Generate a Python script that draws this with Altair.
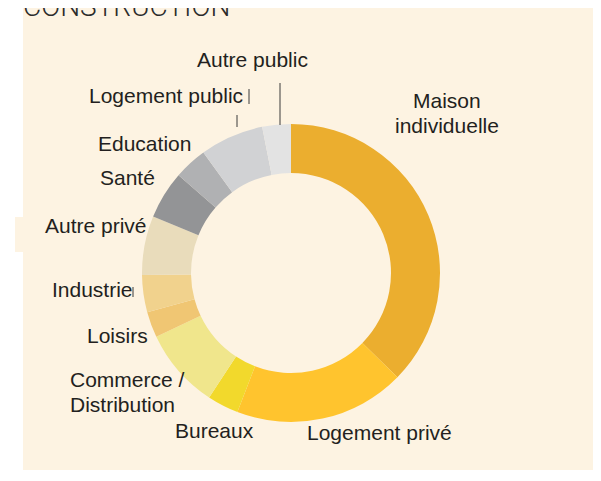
import altair as alt
import pandas as pd

# ---- data ----
categories = ["Maison individuelle", "Logement privé", "Bureaux", "Commerce / Distribution",
              "Loisirs", "Industrie", "Autre privé", "Santé", "Education",
              "Logement public", "Autre public"]
shares = [37.3, 18.5, 3.4, 8.7, 2.8, 4.0, 6.4, 5.2, 3.6, 6.9, 3.1]
colors = ["#EBAE2F", "#FFC42E", "#F2D92C", "#F0E68C", "#F0C673", "#F1D28D",
          "#E9DCBB", "#939496", "#B0B1B3", "#D1D2D4", "#E3E3E3"]

title_text = "CONSTRUCTION"

# label text lines (annotation layout kept separately)
label_text = ["Autre public", "Logement public", "Education", "Santé", "Autre privé",
              "Industrie", "Loisirs", "Commerce /", "Distribution", "Bureaux",
              "Logement privé", "Maison", "individuelle"]
label_x = [189, 81, 90, 92, 37, 44, 79, 62, 62, 167, 299, 405, 387]
label_y = [59, 95, 143, 177, 225, 289, 335, 379, 404, 430, 432, 100, 125]

# leader lines
lead_x = [272, 241, 229, 125]
lead_y = [75, 81, 107, 279]
lead_y2 = [117, 96, 119, 289]

W, H = 585, 462
CREAM = "#FDF3E2"
CX, CY = 283, 265

df = pd.DataFrame({"cat": categories, "share": shares, "idx": list(range(len(categories)))})
labels = pd.DataFrame({"t": label_text, "x": label_x, "y": label_y})
leads = pd.DataFrame({"x": lead_x, "y": lead_y, "y2": lead_y2})
one = pd.DataFrame({"a": [0]})

bg = alt.Chart(one).mark_rect(color=CREAM).encode(
    x=alt.value(15), x2=alt.value(W + 8), y=alt.value(-1), y2=alt.value(H + 11)
)
patch = alt.Chart(one).mark_rect(color=CREAM).encode(
    x=alt.value(7), x2=alt.value(15), y=alt.value(209), y2=alt.value(244)
)

title = alt.Chart(one).mark_text(
    text=title_text, align="left", baseline="alphabetic", font="Roboto",
    fontWeight=300, fontSize=28, color="#2b2b2b"
).encode(x=alt.value(15), y=alt.value(8))

donut = alt.Chart(df).mark_arc(innerRadius=100, outerRadius=149).encode(
    theta=alt.Theta("share:Q", stack=True),
    order=alt.Order("idx:Q"),
    color=alt.Color("cat:N", scale=alt.Scale(domain=categories, range=colors), legend=None),
    x=alt.value(CX), y=alt.value(CY),
)

text = alt.Chart(labels).mark_text(
    align="left", baseline="alphabetic", font="Liberation Sans", fontSize=21, color="#231F20"
).encode(
    x=alt.X("x:Q", scale=None), y=alt.Y("y:Q", scale=None), text="t:N"
)

rules = alt.Chart(leads).mark_rule(color="#3a3a3a", strokeWidth=1).encode(
    x=alt.X("x:Q", scale=None), y=alt.Y("y:Q", scale=None), y2="y2:Q"
)

chart = alt.layer(bg, patch, title, donut, rules, text).properties(
    width=W, height=H, padding=0, background="white",
    autosize=alt.AutoSizeParams(type="none")
).configure_view(strokeWidth=0)

chart.save("out.html", embed_options={"renderer": "svg", "actions": False})
